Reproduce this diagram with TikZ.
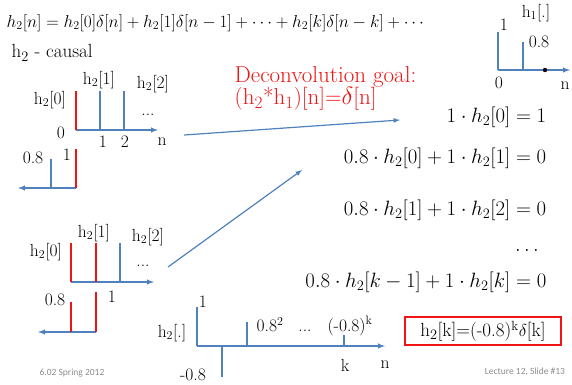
\documentclass[tikz,border=0pt]{standalone}
\usepackage{fontspec}
\newfontfamily\footfont{Carlito}
\definecolor{axblue}{RGB}{79,129,189}
\definecolor{goalred}{RGB}{240,20,20}
\begin{document}
\begin{tikzpicture}[
    x=1pt, y=-1pt,
    every node/.style={font=\fontsize{17.5}{20}\selectfont, inner sep=0.5pt},
    topeq/.style={font=\fontsize{16.5}{19}\selectfont, anchor=west},
    eq/.style={font=\fontsize{22.5}{26}\selectfont, anchor=east},
    goal/.style={font=\fontsize{23}{26}\selectfont, text=goalred, anchor=west},
    result/.style={draw=goalred, line width=1.2pt, minimum width=156pt, minimum height=28pt, font=\fontsize{19}{22}\selectfont},
    foot/.style={font=\footfont\fontsize{9.5}{11}\selectfont, text=black!45},
    stem/.style={axblue, line width=1.4pt},
    rstem/.style={goalred, line width=1.4pt},
    ax/.style={->, >=latex, axblue, line width=1.4pt},
    arr/.style={->, >=latex, axblue, line width=1.2pt}
]
\useasboundingbox (0,0) rectangle (572,384);

% Top
\node[topeq] (sum) at (6,23) {$h_2[n]=h_2[0]\delta[n]+h_2[1]\delta[n-1]+\cdots+h_2[k]\delta[n-k]+\cdots$};
\node[anchor=west, font=\fontsize{19}{21}\selectfont] (causal) at (11,53) {h$_2$ - causal};

% h1
\draw[ax] (498,70) -- (570,70);
\draw[stem] (498,70) -- (498,32);
\draw[stem] (523,70) -- (523,42);
\fill (545,70) circle (2.2pt);
\node (h1name) at (536,13) {h$_1$[.]};
\node (h1one) at (504,25) {1};
\node (h1pt8) at (539,42) {0.8};
\node (h1zero) at (499,83) {0};
\node (h1n) at (565,86) {n};

% h2, first step
\draw[ax] (76,130) -- (158,130);
\draw[rstem] (76,130) -- (76,91);
\draw[stem] (100,130) -- (100,91);
\draw[stem] (124,130) -- (124,91);
\node (p1h0) at (50,100) {h$_2$[0]};
\node (p1h1) at (99,80) {h$_2$[1]};
\node (p1h2) at (153,84) {h$_2$[2]};
\node (p1dots) at (148,115) {...};
\node (p1zero) at (61,133) {0};
\node (p1one) at (103,142) {1};
\node (p1two) at (125,142) {2};
\node (p1n) at (162,142) {n};
\draw[ax] (76,188) -- (18,188);
\draw[rstem] (76,188) -- (76,149);
\draw[stem] (51,188) -- (51,159);
\node (q1pt8) at (33,158) {0.8};
\node (q1one) at (67,155) {1};

% h2, second step
\draw[ax] (71,282) -- (154,282);
\draw[rstem] (71,282) -- (71,243);
\draw[rstem] (96,282) -- (96,243);
\draw[stem] (120,282) -- (120,243);
\node (p2h0) at (46,252) {h$_2$[0]};
\node (p2h1) at (94,233) {h$_2$[1]};
\node (p2h2) at (148,237) {h$_2$[2]};
\node (p2dots) at (143,266) {...};
\draw[ax] (96,332) -- (38,332);
\draw[rstem] (96,332) -- (96,292);
\draw[rstem] (71,332) -- (71,302);
\node (q2pt8) at (55,300) {0.8};
\node (q2one) at (112,297) {1};

% Goal
\node[goal] (goal1) at (234,77) {Deconvolution goal:};
\node[goal] (goal2) at (234,99) {(h$_2$*h$_1$)[n]=$\delta$[n]};

% Equations
\node[eq] (e0) at (547,117) {$1\cdot h_2[0]=1$};
\node[eq] (e1) at (547,158) {$0.8\cdot h_2[0]+1\cdot h_2[1]=0$};
\node[eq] (e2) at (547,210) {$0.8\cdot h_2[1]+1\cdot h_2[2]=0$};
\node[font=\fontsize{22.5}{26}\selectfont] (edots) at (527,250) {$\dots$};
\node[eq] (e3) at (547,282) {$0.8\cdot h_2[k-1]+1\cdot h_2[k]=0$};

% Arrows
\coordinate (a1s) at (184,135);
\coordinate (a1e) at (400,120);
\coordinate (a2s) at (168,267);
\coordinate (a2e) at (302,170);
\draw[arr] (a1s) -- (a1e);
\draw[arr] (a2s) -- (a2e);

% h2 result
\draw[ax] (197,346) -- (385,346);
\draw[stem] (197,346) -- (197,307);
\draw[stem] (222,346) -- (222,377);
\draw[stem] (247,346) -- (247,322);
\draw[stem] (344,346) -- (344,335);
\node (r1) at (203,302) {1};
\node (rname) at (172,333) {h$_2$[.]};
\node (rsq) at (270,325) {0.8$^2$};
\node (rdots) at (305,331) {...};
\node (rk) at (350,326) {(-0.8)$^\mathrm{k}$};
\node (rkx) at (345,365) {k};
\node (rn) at (385,365) {n};
\node (rneg) at (193,375) {-0.8};
\node[result] (res) at (483,331) {h$_2$[k]=(-0.8)$^\mathrm{k}\delta$[k]};

% Footer
\node[foot] (course) at (72,373) {6.02 Spring 2012};
\node[foot] (slide) at (525,372) {Lecture 12, Slide \#13};
\end{tikzpicture}
\end{document}
